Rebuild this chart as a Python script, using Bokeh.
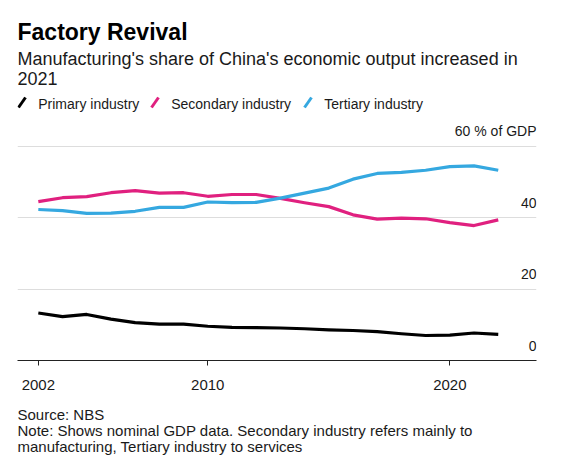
from bokeh.plotting import figure
from bokeh.layouts import column
from bokeh.models import Range1d, FixedTicker
from bokeh.core.properties import value
from bokeh.embed import file_html
from bokeh.resources import INLINE

# ---------------- data ----------------
years = list(range(2002, 2022))
primary = [13.3, 12.3, 12.9, 11.6, 10.6, 10.2, 10.2, 9.6, 9.3, 9.2,
           9.1, 8.9, 8.6, 8.4, 8.1, 7.5, 7.0, 7.1, 7.7, 7.3]
secondary = [44.5, 45.6, 45.9, 47.0, 47.6, 46.9, 47.0, 46.0, 46.5, 46.5,
             45.4, 44.2, 43.1, 40.8, 39.6, 39.9, 39.7, 38.6, 37.8, 39.4]
tertiary = [42.3, 42.0, 41.2, 41.3, 41.8, 42.9, 42.9, 44.4, 44.2, 44.3,
            45.5, 46.9, 48.3, 50.8, 52.4, 52.7, 53.3, 54.3, 54.5, 53.3]
series_names = ["Primary industry", "Secondary industry", "Tertiary industry"]
y_ticks = [0, 20, 40, 60]
y_tick_labels = ["0", "20", "40", "60 % of GDP"]
x_tick_years = [2002, 2010, 2020]

title_text = "Factory Revival"
subtitle_lines = ["Manufacturing's share of China's economic output increased in", "2021"]
footer_lines = ["Source: NBS",
                "Note: Shows nominal GDP data. Secondary industry refers mainly to",
                "manufacturing, Tertiary industry to services"]

# ---------------- style ----------------
FONT = "Liberation Sans"
colors = ["#000000", "#e0207f", "#35a8e0"]
TEXT = "#1a1a1a"
W = 547
LEFT, RIGHT = 17, 536          # frame edges in page pixels (shared by all panels)

# annual values are plotted at the end of each year
x_pos = [y + 1 for y in years]
x_tick_pos = [x_pos[0]] + x_tick_years[1:]
x_overrides = {int(p): str(y) for p, y in zip(x_tick_pos, x_tick_years)}


def blank(height, y0, y1):
    # decoration panel whose units are page pixels
    f = figure(width=W, height=height, x_range=Range1d(LEFT, RIGHT), y_range=Range1d(y0, y1),
               output_backend="svg", toolbar_location=None, x_axis_type=None, y_axis_type=None,
               min_border_left=LEFT, min_border_right=W - RIGHT, min_border_top=0,
               min_border_bottom=0, outline_line_color=None)
    f.grid.visible = False
    return f


# ---------------- header ----------------
header = blank(116, 116, 0)
header.text(x=[17], y=[31.5], text=[title_text], text_font=value(FONT), text_font_size="23px",
            text_font_style="bold", text_color="#000000", text_baseline="alphabetic")
header.text(x=[17, 17], y=[58, 78], text=subtitle_lines, text_font=value(FONT),
            text_font_size="18px", text_color=TEXT, text_baseline="alphabetic")
legend_x = [18, 151, 304]
header.segment(x0=legend_x, y0=[107] * 3, x1=[x + 7 for x in legend_x], y1=[97] * 3,
               line_color=colors, line_width=3)
header.text(x=[x + 19.7 for x in legend_x], y=[103.5] * 3, text=series_names, text_font=value(FONT),
            text_font_size="14px", text_color=TEXT, text_baseline="alphabetic")

# ---------------- chart ----------------
x_start, x_end = 2002.14, 2023.58
chart = figure(width=W, height=282, x_range=Range1d(x_start, x_end), y_range=Range1d(0, 68.35),
               output_backend="svg", toolbar_location=None, y_axis_location=None,
               min_border_left=LEFT, min_border_right=W - RIGHT, min_border_top=0,
               min_border_bottom=38, outline_line_color=None)
chart.xgrid.visible = False
chart.ygrid.ticker = FixedTicker(ticks=y_ticks)
chart.ygrid.grid_line_color = "#dddddd"
chart.ygrid.grid_line_width = 1

for vals, c in zip([primary, secondary, tertiary], colors):
    chart.line(x_pos, vals, line_color=c, line_width=3.2, line_join="round")

chart.text(x=[x_end] * len(y_ticks), y=y_ticks, text=y_tick_labels, text_align="right",
           text_baseline="alphabetic", y_offset=-15, text_font=value(FONT),
           text_font_size="14px", text_color=TEXT)

ax = chart.xaxis[0]
ax.ticker = FixedTicker(ticks=x_tick_pos)
ax.major_label_overrides = x_overrides
ax.minor_tick_line_color = None
ax.major_tick_in = 0
ax.major_tick_out = 5
ax.axis_line_color = "#222222"
ax.major_tick_line_color = "#222222"
ax.major_label_text_font = FONT
ax.major_label_text_font_size = "15px"
ax.major_label_text_color = TEXT
ax.major_label_standoff = 14

# ---------------- footer ----------------
footer = blank(61, 459, 398)
footer.text(x=[17] * 3, y=[414, 430, 446], text=footer_lines, text_font=value(FONT),
            text_font_size="15px", text_color=TEXT, text_baseline="alphabetic")

layout = column(header, chart, footer)
open("out.html", "w").write(file_html(layout, INLINE))
